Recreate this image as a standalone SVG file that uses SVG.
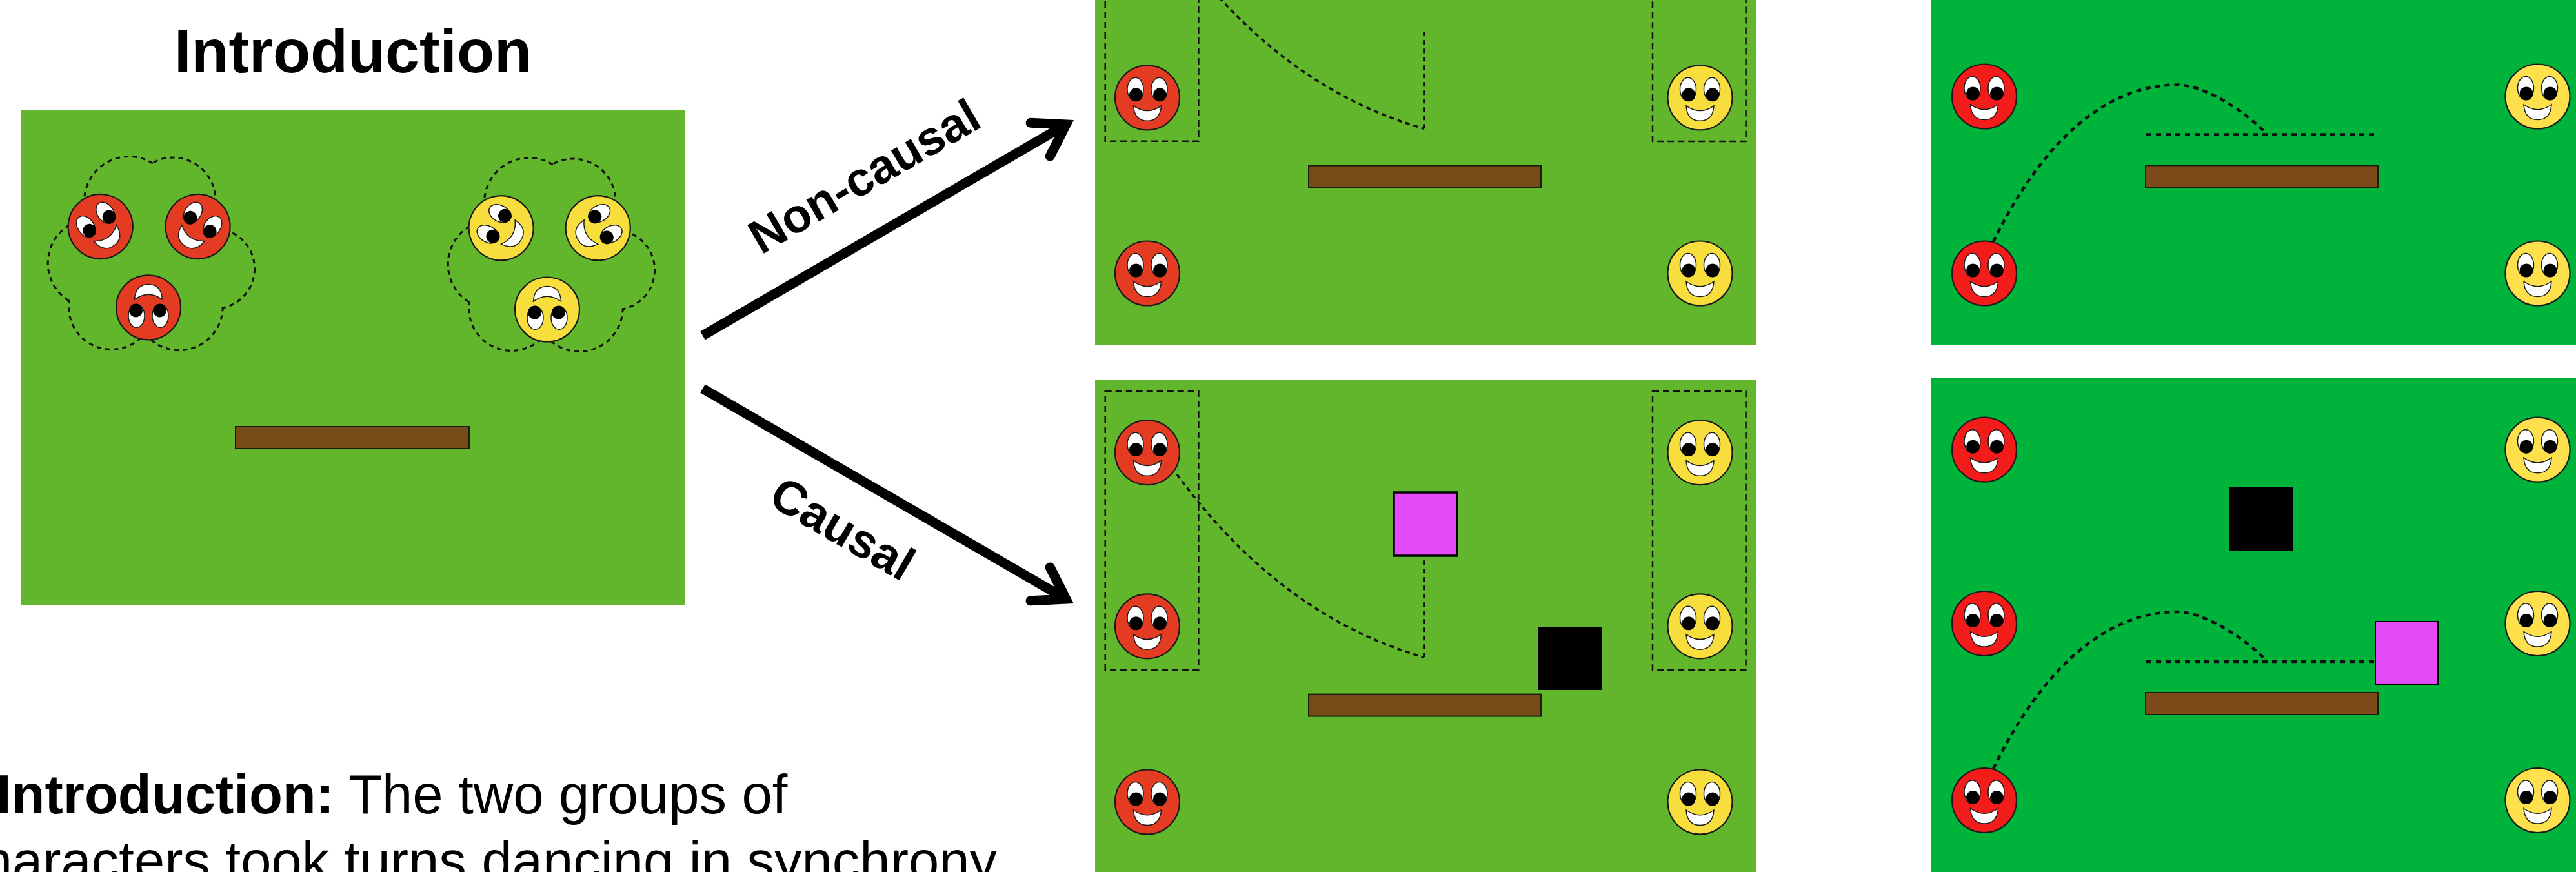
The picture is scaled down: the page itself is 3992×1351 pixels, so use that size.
<svg xmlns="http://www.w3.org/2000/svg" xmlns:xlink="http://www.w3.org/1999/xlink" width="3992" height="1351" viewBox="0 0 3992 1351">
  <style>
    .txt { font-family: "Liberation Sans", Arial, Helvetica, sans-serif; fill: #000; }
    .b { font-weight: bold; }
    .field { fill: #62b62b; }
    .field2 { fill: #00b33b; }
    .bar { fill: #754b17; stroke: #1c1c0c; stroke-width: 2; }
    .bar2 { fill: #7c4b19; stroke: #1c1c0c; stroke-width: 2; }
    .box { fill: none; stroke: #111; stroke-width: 2.5; stroke-dasharray: 10 6; }
    .trail { fill: none; stroke: #111; stroke-width: 3.5; stroke-dasharray: 7 6; }
    .trail2 { fill: none; stroke: #111; stroke-width: 4.5; stroke-dasharray: 8 7; }
    .arrow { fill: none; stroke: #000; stroke-width: 15; stroke-linecap: butt; }
    .magenta { fill: #e44cf9; stroke: #000; }
  </style>
  <defs>
    <!-- smiley character, centred on 0,0; body colour comes from the referencing element -->
    <g id="face">
      <circle r="50" stroke="#1a1a1a" stroke-width="2.2"/>
      <ellipse cx="-18.5" cy="-13" rx="12.5" ry="18" fill="#fff" stroke="#1a1a1a" stroke-width="1.5"/>
      <ellipse cx="18.5" cy="-13" rx="12.5" ry="18" fill="#fff" stroke="#1a1a1a" stroke-width="1.5"/>
      <circle cx="-17.5" cy="-4.5" r="10.5" fill="#000"/>
      <circle cx="19.5" cy="-4.5" r="10.5" fill="#000"/>
      <path d="M-21.5 12.5Q0 28 21.5 12.5Q20 36 0 36Q-20 36 -21.5 12.5Z" fill="#fff" stroke="#1a1a1a" stroke-width="1.5"/>
    </g>

    <!-- cloud outline = outer edge of six overlapping circles -->
    <mask id="cloudMask" maskUnits="userSpaceOnUse" x="0" y="150" width="500" height="500">
      <rect x="0" y="150" width="500" height="500" fill="#fff"/>
      <g fill="#000">
        <circle cx="200" cy="312" r="68"/>
        <circle cx="268" cy="310" r="64.5"/>
        <circle cx="332.7" cy="416.3" r="60.4"/>
        <circle cx="277.7" cy="475.2" r="66"/>
        <circle cx="172.7" cy="475.3" r="64.7"/>
        <circle cx="142.9" cy="407.6" r="67.2"/>
        <circle cx="234" cy="398" r="105"/>
      </g>
    </mask>
    <g id="cloud" mask="url(#cloudMask)" fill="none" stroke="#111" stroke-width="6" stroke-dasharray="7 6">
      <circle cx="200" cy="312" r="68"/>
      <circle cx="268" cy="310" r="64.5"/>
      <circle cx="332.7" cy="416.3" r="60.4"/>
      <circle cx="277.7" cy="475.2" r="66"/>
      <circle cx="172.7" cy="475.3" r="64.7"/>
      <circle cx="142.9" cy="407.6" r="67.2"/>
    </g>

    <!-- shared layout of the middle column scenes (local coordinates) -->
    <g id="mid-scene">
      <rect class="field" width="1024" height="766"/>
      <rect class="box" x="15.7" y="17.7" width="144.7" height="432"/>
      <rect class="box" x="864" y="18" width="144.6" height="432"/>
      <rect class="bar" x="331" y="487.6" width="360" height="34"/>
      <path class="trail" d="M127 147Q288 367 509.9 430.3"/>
      <path class="trail" d="M509.9 430.3V280.3"/>
      <use xlink:href="#face" href="#face" x="81" y="113.2" fill="#e33c22"/>
      <use xlink:href="#face" href="#face" x="81" y="382.3" fill="#e33c22"/>
      <use xlink:href="#face" href="#face" x="81" y="654.5" fill="#e33c22"/>
      <use xlink:href="#face" href="#face" x="937.5" y="113.2" fill="#f8de3d"/>
      <use xlink:href="#face" href="#face" x="937.5" y="382.3" fill="#f8de3d"/>
      <use xlink:href="#face" href="#face" x="937.5" y="654.5" fill="#f8de3d"/>
    </g>

    <!-- shared layout of the right column scenes (local coordinates) -->
    <g id="right-scene">
      <rect class="field2" width="1026" height="766"/>
      <rect class="bar2" x="332" y="488" width="360" height="34"/>
      <path class="trail2" d="M333 440H689"/>
      <path class="trail2" d="M96 606C171 452 270 363 380.5 363C425.5 363 489.4 406.6 520 439.5"/>
      <use xlink:href="#face" href="#face" x="82" y="111.7" fill="#f21d1b"/>
      <use xlink:href="#face" href="#face" x="82" y="381" fill="#f21d1b"/>
      <use xlink:href="#face" href="#face" x="82" y="655" fill="#f21d1b"/>
      <use xlink:href="#face" href="#face" x="939.5" y="111.7" fill="#fde04b"/>
      <use xlink:href="#face" href="#face" x="939.5" y="381" fill="#fde04b"/>
      <use xlink:href="#face" href="#face" x="939.5" y="655" fill="#fde04b"/>
    </g>

    <marker id="chevron" markerUnits="userSpaceOnUse" refX="0" refY="0" markerWidth="200" markerHeight="200" orient="auto" overflow="visible">
      <polyline points="-46.1,-30 0,0 -46.1,30" fill="none" stroke="#000" stroke-width="15" stroke-linecap="round" stroke-linejoin="miter"/>
    </marker>
  </defs>

  <rect width="3992" height="1351" fill="#fff"/>

  <!-- introduction scene -->
  <g id="intro">
    <text class="txt b" x="547" y="112" font-size="95" text-anchor="middle">Introduction</text>
    <rect class="field" x="33" y="171" width="1028" height="766"/>
    <rect class="bar" x="365" y="661" width="362" height="34"/>
    <g id="intro-red-group">
      <use xlink:href="#cloud" href="#cloud"/>
      <use xlink:href="#face" href="#face" fill="#e33c22" transform="translate(155.7 351) rotate(-35)"/>
      <use xlink:href="#face" href="#face" fill="#e33c22" transform="translate(306.6 351) rotate(35)"/>
      <use xlink:href="#face" href="#face" fill="#e33c22" transform="translate(230 476.4) rotate(180)"/>
    </g>
    <g id="intro-yellow-group">
      <g transform="translate(620 2)"><use xlink:href="#cloud" href="#cloud"/></g>
      <use xlink:href="#face" href="#face" fill="#f8de3d" transform="translate(776.6 353.3) rotate(-60)"/>
      <use xlink:href="#face" href="#face" fill="#f8de3d" transform="translate(926.7 353.3) rotate(60)"/>
      <use xlink:href="#face" href="#face" fill="#f8de3d" transform="translate(848 479.5) rotate(180)"/>
    </g>
  </g>

  <!-- caption -->
  <g id="caption">
    <text class="txt" x="-6" y="1260" font-size="85"><tspan class="b">Introduction:</tspan> The two groups of</text>
    <text class="txt" x="1545" y="1363" font-size="85" text-anchor="end">characters took turns dancing in synchrony</text>
  </g>

  <!-- middle column -->
  <g id="panel-noncausal" transform="translate(1697 -231)">
    <use xlink:href="#mid-scene" href="#mid-scene"/>
  </g>
  <g id="panel-causal" transform="translate(1697 588)">
    <use xlink:href="#mid-scene" href="#mid-scene"/>
    <rect class="magenta" stroke-width="3.5" x="463" y="175" width="98" height="98"/>
    <rect x="687" y="383" width="98" height="98" fill="#000"/>
  </g>

  <!-- right column -->
  <g id="panel-noncausal-outcome" transform="translate(2993 -231.5)">
    <use xlink:href="#right-scene" href="#right-scene"/>
  </g>
  <g id="panel-causal-outcome" transform="translate(2993 585)">
    <use xlink:href="#right-scene" href="#right-scene"/>
    <rect x="462" y="169" width="99" height="99" fill="#000"/>
    <rect class="magenta" stroke-width="2" x="688" y="378" width="97" height="97"/>
  </g>

  <!-- connectors -->
  <g id="connectors">
    <g id="arrow-noncausal">
      <path class="arrow" d="M1089 520L1652 193" marker-end="url(#chevron)"/>
      <text class="txt b" x="1352" y="295" font-size="74" text-anchor="middle" transform="rotate(-30.15 1352 295)">Non-causal</text>
    </g>
    <g id="arrow-causal">
      <path class="arrow" d="M1089 602L1652 928" marker-end="url(#chevron)"/>
      <text class="txt b" x="1293" y="841" font-size="74" text-anchor="middle" transform="rotate(30.15 1293 841)">Causal</text>
    </g>
  </g>
</svg>
